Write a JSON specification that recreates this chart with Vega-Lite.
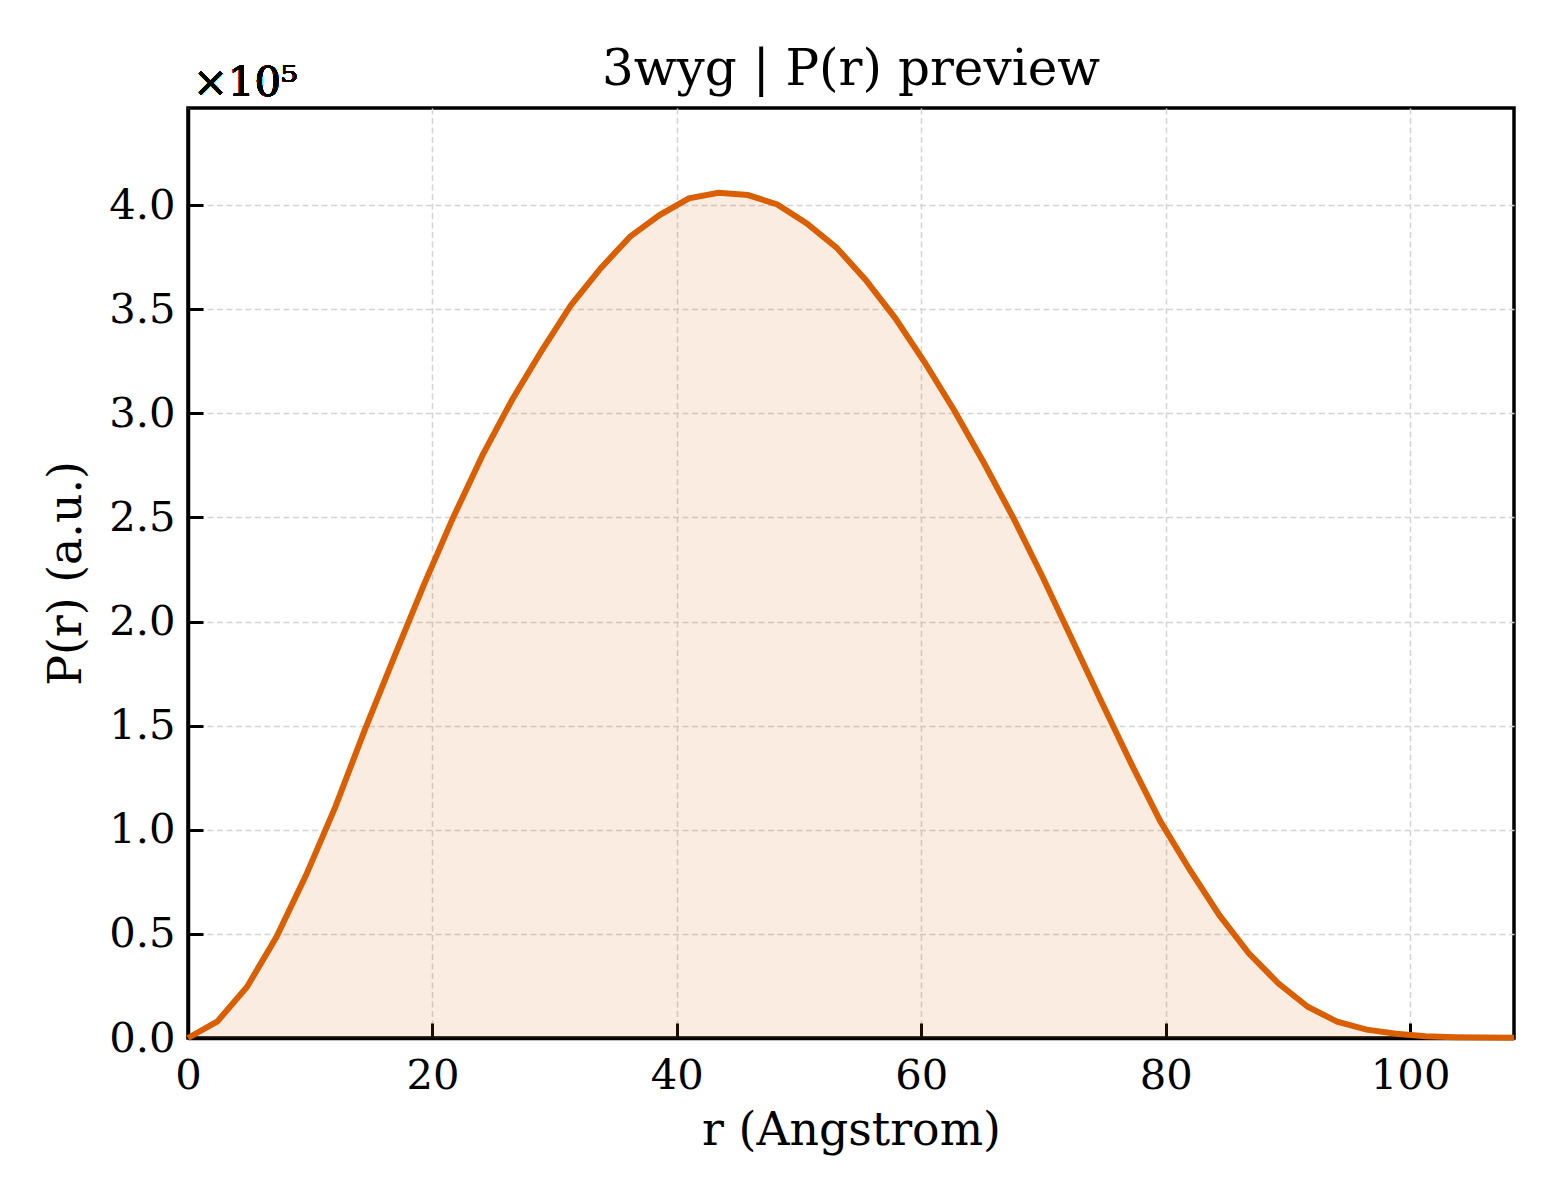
{
  "$schema": "https://vega.github.io/schema/vega-lite/v6.json",
  "autosize": "none",
  "width": 1326,
  "height": 930,
  "padding": {"left": 188, "top": 108, "right": 46, "bottom": 162},
  "background": "white",
  "title": {"text": "3wyg | P(r) preview", "fontSize": 50, "fontWeight": "normal", "font": "DejaVu Serif", "color": "black", "offset": -32, "anchor": "middle", "frame": "group"},
  "config": {
    "font": "DejaVu Serif",
    "view": {"stroke": "black", "strokeWidth": 3.5},
    "axis": {
      "domain": true,
      "domainColor": "black",
      "domainWidth": 3.5,
      "grid": true,
      "gridColor": "#d4d4d4",
      "gridDash": [6, 3.5],
      "gridWidth": 1.5,
      "tickColor": "black",
      "tickWidth": 3,
      "tickSize": -15,
      "labelFont": "DejaVu Serif",
      "labelFontSize": 41.7,
      "labelColor": "black",
      "titleFont": "DejaVu Serif",
      "titleFontSize": 45.8,
      "titleFontWeight": "normal",
      "titleColor": "black"
    }
  },
  "data": {"values": [
    {"r": 0.0, "P": 0},
    {"r": 2.411, "P": 8000},
    {"r": 4.822, "P": 24500},
    {"r": 7.233, "P": 48500},
    {"r": 9.644, "P": 78000},
    {"r": 12.056, "P": 111000},
    {"r": 14.467, "P": 148000},
    {"r": 16.878, "P": 183000},
    {"r": 19.289, "P": 217500},
    {"r": 21.7, "P": 250000},
    {"r": 24.111, "P": 280000},
    {"r": 26.522, "P": 306500},
    {"r": 28.933, "P": 330000},
    {"r": 31.344, "P": 352000},
    {"r": 33.756, "P": 369600},
    {"r": 36.167, "P": 384800},
    {"r": 38.578, "P": 395200},
    {"r": 40.989, "P": 403200},
    {"r": 43.4, "P": 405900},
    {"r": 45.811, "P": 404800},
    {"r": 48.222, "P": 400300},
    {"r": 50.633, "P": 391200},
    {"r": 53.044, "P": 379700},
    {"r": 55.456, "P": 364000},
    {"r": 57.867, "P": 345700},
    {"r": 60.278, "P": 324500},
    {"r": 62.689, "P": 301500},
    {"r": 65.1, "P": 276500},
    {"r": 67.511, "P": 250000},
    {"r": 69.922, "P": 221500},
    {"r": 72.333, "P": 191500},
    {"r": 74.744, "P": 161500},
    {"r": 77.156, "P": 132000},
    {"r": 79.567, "P": 104000},
    {"r": 81.978, "P": 80700},
    {"r": 84.389, "P": 59000},
    {"r": 86.8, "P": 40700},
    {"r": 89.211, "P": 26300},
    {"r": 91.622, "P": 15000},
    {"r": 94.033, "P": 7800},
    {"r": 96.444, "P": 4000},
    {"r": 98.856, "P": 2000},
    {"r": 101.267, "P": 800},
    {"r": 103.678, "P": 400},
    {"r": 106.089, "P": 200},
    {"r": 108.5, "P": 100}
  ]},
  "encoding": {
    "x": {
      "field": "r", "type": "quantitative",
      "scale": {"domain": [0, 108.5], "nice": false, "zero": false},
      "axis": {"title": "r (Angstrom)", "values": [0, 20, 40, 60, 80, 100], "labelPadding": 32, "titlePadding": 12, "labelFlush": false}
    },
    "y": {
      "field": "P", "type": "quantitative",
      "scale": {"domain": [0, 446600], "nice": false},
      "axis": {"title": "P(r) (a.u.)", "values": [0, 50000, 100000, 150000, 200000, 250000, 300000, 350000, 400000], "labelExpr": "format(datum.value / 100000, '.1f')", "labelPadding": 28, "titlePadding": 18, "labelFlush": false}
    }
  },
  "layer": [
    {"mark": {"type": "area", "color": "#D95F02", "opacity": 0.12}},
    {"mark": {"type": "line", "color": "#D95F02", "strokeWidth": 6}},
    {
      "mark": {"type": "text", "text": "×10⁵", "align": "left", "baseline": "alphabetic", "dx": 5, "dy": -12, "fontSize": 41.7, "font": "DejaVu Serif", "color": "black"},
      "encoding": {"x": {"datum": 0}, "y": {"datum": 446600}}
    }
  ]
}
